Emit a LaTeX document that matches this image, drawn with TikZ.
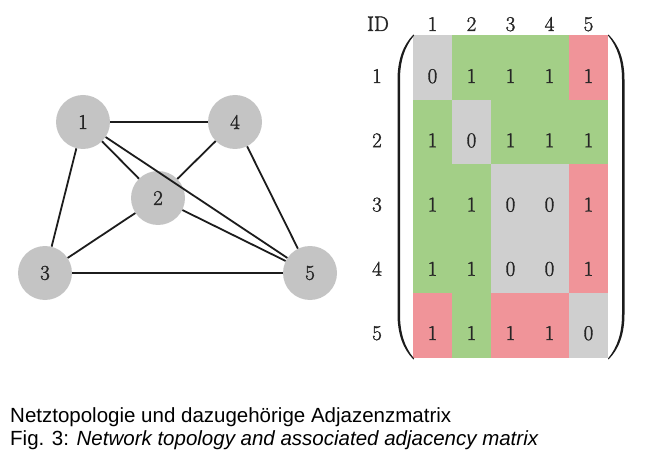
\documentclass[tikz,border=0pt]{standalone}
\usepackage{fontspec}
\newfontfamily\capfont{Liberation Sans}
\newfontfamily\numfont{Latin Modern Roman}[FakeBold=1.6]
\definecolor{cellgray}{HTML}{CFCFCF}
\definecolor{cellgreen}{HTML}{A3CF87}
\definecolor{cellred}{HTML}{F09499}
\definecolor{vertexgray}{HTML}{C4C4C4}
\definecolor{edgeink}{HTML}{1C1C1C}
\begin{document}
\begin{tikzpicture}[x=1pt,y=-1pt,
  vertex/.style={circle,fill=vertexgray,inner sep=0pt,minimum size=54pt,
    font=\numfont\fontsize{21}{24}\selectfont,text=black!85},
  link/.style={draw=edgeink,line width=1.8pt},
  num/.style={anchor=base,inner sep=0pt,font=\numfont\fontsize{21}{24}\selectfont,text=black!85},
  capline/.style={anchor=base west,inner sep=0pt,font=\capfont\fontsize{20.5}{24}\selectfont}]
\useasboundingbox (0,0) rectangle (647,462);

% ---- network graph ----
\node[vertex] (n1) at (83,122) {1};
\node[vertex] (n4) at (235,122) {4};
\node[vertex] (n2) at (158,198) {2};
\node[vertex] (n3) at (45,273) {3};
\node[vertex] (n5) at (310,273) {5};
\foreach \a/\b in {n1/n4,n1/n3,n1/n2,n1/n5,n4/n2,n4/n5,n2/n3,n2/n5,n3/n5}
  \draw[link] (\a) -- (\b);

% ---- adjacency matrix: coloured cells ----
\foreach \row/\cols in {0/{gray,green,green,green,red},
                        1/{green,gray,green,green,green},
                        2/{green,green,gray,gray,red},
                        3/{green,green,gray,gray,red},
                        4/{red,green,red,red,gray}}{
  \foreach \c [count=\j from 0] in \cols {
    \fill[cell\c] ({413+39*\j},{35+64.6*\row}) rectangle ({413+39*(\j+1)},{35+64.6*(\row+1)});
  }
}

% ---- parentheses ----
\fill[edgeink] (413.5,34.5) .. controls (403,45) and (397.5,60) .. (397.5,80)
  -- (397.5,314) .. controls (397.5,334) and (403,349) .. (413.5,359.5)
  -- (414,358.5) .. controls (404.5,347) and (400,333) .. (400,314)
  -- (400,80) .. controls (400,61) and (404.5,47) .. (414,35.5) -- cycle;
\begin{scope}[xshift=1022pt,xscale=-1]
\fill[edgeink] (413.5,34.5) .. controls (403,45) and (397.5,60) .. (397.5,80)
  -- (397.5,314) .. controls (397.5,334) and (403,349) .. (413.5,359.5)
  -- (414,358.5) .. controls (404.5,347) and (400,333) .. (400,314)
  -- (400,80) .. controls (400,61) and (404.5,47) .. (414,35.5) -- cycle;
\end{scope}

% ---- header row and row labels ----
\node[num] (hid) at (378,31) {ID};
\foreach \k in {1,...,5}{
  \node[num] (h\k) at ({413+39*\k-19.5},31) {\k};
  \node[num] (r\k) at (377,{83+64.25*(\k-1)}) {\k};
}

% ---- matrix entries ----
\foreach \row/\vals in {1/{0,1,1,1,1},2/{1,0,1,1,1},3/{1,1,0,0,1},4/{1,1,0,0,1},5/{1,1,1,1,0}}{
  \foreach \v [count=\j] in \vals {
    \node[num] (m\row\j) at ({413+39*\j-19.5},{83+64.25*(\row-1)}) {\v};
  }
}

% ---- caption ----
\node[capline] (cap1) at (10,422) {Netztopologie und dazugehörige Adjazenzmatrix};
\node[capline] (cap2) at (10,445) {Fig. 3: \itshape Network topology and associated adjacency matrix};
\end{tikzpicture}
\end{document}
